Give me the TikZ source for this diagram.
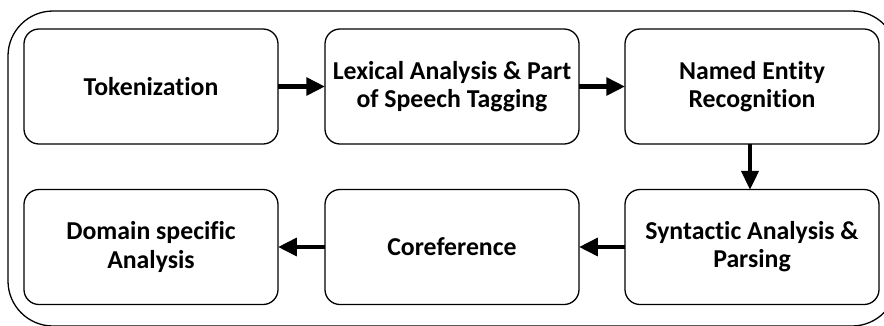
\documentclass[tikz,border=0pt]{standalone}
\usepackage{fontspec}
\setmainfont{Carlito}[Ligatures=NoCommon]
\usetikzlibrary{arrows.meta}
\begin{document}
\begin{tikzpicture}[x=0.03cm, y=-0.03cm,
  stage/.style={draw, line width=1.1pt, rounded corners=0.45cm,
    minimum width=7.62cm, minimum height=3.45cm, outer sep=0pt,
    align=center, font=\fontsize{22}{24}\selectfont\bfseries},
  flow/.style={line width=3.6pt, -{Triangle[length=16pt, width=15pt]}}]
  % page area; the outer frame runs past the right and bottom edges
  \clip (0,0) rectangle (884,325);
  \draw[line width=1.1pt, rounded corners=1.35cm] (8,11) rectangle (897,326);
  % first row of stages
  \node[stage] (tok) at (151,86.5) {Tokenization};
  \node[stage] (lex) at (452,86.5) {Lexical Analysis \& Part\\of Speech Tagging};
  \node[stage] (ner) at (752,86.5) {Named Entity\\Recognition};
  % second row of stages
  \node[stage] (dom) at (151,247) {Domain specific\\Analysis};
  \node[stage] (cor) at (452,247) {Coreference};
  \node[stage] (syn) at (752,247) {Syntactic Analysis \&\\Parsing};
  % pipeline connectors
  \draw[flow] (tok.east) -- (lex.west);
  \draw[flow] (lex.east) -- (ner.west);
  \draw[flow, line width=2.6pt] ([xshift=-0.06cm]ner.south) -- ([xshift=-0.06cm]syn.north);
  \draw[flow] (syn.west) -- (cor.east);
  \draw[flow] (cor.west) -- (dom.east);
\end{tikzpicture}
\end{document}
